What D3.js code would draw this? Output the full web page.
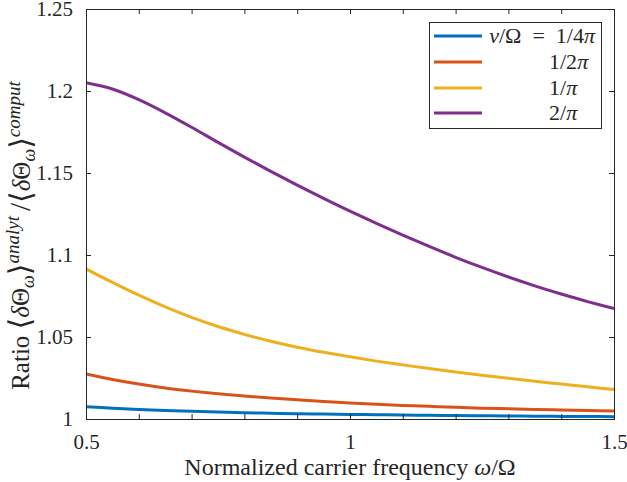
<!DOCTYPE html>
<html>
<head>
<meta charset="utf-8">
<script src="https://cdn.jsdelivr.net/npm/d3@7"></script>
<style>
  html, body { margin: 0; padding: 0; background: #fff; }
  svg text { font-family: "Liberation Serif", "DejaVu Serif", serif; fill: #262626; }
</style>
</head>
<body>
<svg id="chart" width="627" height="482"></svg>
<script>
// Normalized carrier frequency ω/Ω
const omega = [0.50, 0.55, 0.60, 0.65, 0.70, 0.75, 0.80, 0.85, 0.90, 0.95, 1.00,
               1.05, 1.10, 1.15, 1.20, 1.25, 1.30, 1.35, 1.40, 1.45, 1.50];

// Ratio <δΘ>analyt / <δΘ>comput for each ν/Ω
const ratioQuarterPi = [1.0075, 1.0066, 1.0058, 1.0052, 1.0047, 1.0042, 1.0038, 1.0035, 1.0032, 1.0030, 1.0028,
                        1.0026, 1.0024, 1.0023, 1.0021, 1.0020, 1.0019, 1.0017, 1.0016, 1.0015, 1.0014];
const ratioHalfPi    = [1.0274, 1.0241, 1.0213, 1.0189, 1.0170, 1.0154, 1.0140, 1.0128, 1.0117, 1.0107, 1.0098,
                        1.0090, 1.0083, 1.0077, 1.0071, 1.0066, 1.0062, 1.0058, 1.0055, 1.0052, 1.0049];
const ratioOnePi     = [1.0915, 1.0833, 1.0755, 1.0684, 1.0620, 1.0564, 1.0516, 1.0474, 1.0438, 1.0407, 1.0379,
                        1.0353, 1.0330, 1.0308, 1.0287, 1.0267, 1.0248, 1.0230, 1.0213, 1.0196, 1.0180];
const ratioTwoPi     = [1.2050, 1.2012, 1.1947, 1.1867, 1.1779, 1.1687, 1.1597, 1.1510, 1.1426, 1.1345, 1.1267,
                        1.1193, 1.1121, 1.1052, 1.0986, 1.0924, 1.0866, 1.0812, 1.0762, 1.0716, 1.0673];

const seriesNames  = ["1/4π", "1/2π", "1/π", "2/π"];
const seriesColors = ["#0072BD", "#D95319", "#EDB120", "#7E2F8E"];
const seriesValues = [ratioQuarterPi, ratioHalfPi, ratioOnePi, ratioTwoPi];

const xTickValues = [0.5, 0.6, 0.7, 0.8, 0.9, 1.0, 1.1, 1.2, 1.3, 1.4, 1.5];
const xTickLabels = ["0.5", "", "", "", "", "1", "", "", "", "", "1.5"];
const yTickValues = [1.00, 1.05, 1.10, 1.15, 1.20, 1.25];
const yTickLabels = ["1", "1.05", "1.1", "1.15", "1.2", "1.25"];

const svg = d3.select("#chart");
const L = 86, R = 614, T = 9, B = 419;
const axisColor = "#262626";
const tickLen = 5;

const x = d3.scaleLinear().domain([0.5, 1.5]).range([L, R]);
const y = d3.scaleLinear().domain([1.0, 1.25]).range([B, T]);

// Curves
const line = d3.line()
  .x(d => x(d[0]))
  .y(d => y(d[1]))
  .curve(d3.curveCatmullRom.alpha(0.5));

svg.append("clipPath").attr("id", "plotclip")
  .append("rect").attr("x", L).attr("y", T - 2).attr("width", R - L).attr("height", B - T + 2);

svg.append("g").attr("clip-path", "url(#plotclip)")
  .selectAll("path")
  .data(seriesValues)
  .join("path")
  .attr("d", vals => line(omega.map((w, i) => [w, vals[i]])))
  .attr("fill", "none")
  .attr("stroke", (d, i) => seriesColors[i])
  .attr("stroke-width", 3)
  .attr("stroke-linejoin", "round");

// Axes (boxed, ticks pointing inward on all four sides)
function styleAxis(g) {
  g.select(".domain").attr("stroke", axisColor).attr("stroke-width", 1);
  g.selectAll(".tick line").attr("stroke", axisColor).attr("stroke-width", 1);
  g.selectAll(".tick text").attr("font-size", 21).attr("fill", axisColor);
}

svg.append("g")
  .attr("transform", `translate(0,${B})`)
  .call(d3.axisBottom(x).tickValues(xTickValues)
        .tickFormat((d, i) => xTickLabels[i])
        .tickSizeInner(-tickLen).tickSizeOuter(0).tickPadding(15))
  .call(styleAxis)
  .call(g => g.selectAll(".tick text").attr("dy", "0.71em"));

svg.append("g")
  .attr("transform", `translate(0,${T})`)
  .call(d3.axisTop(x).tickValues(xTickValues).tickFormat("")
        .tickSizeInner(-tickLen).tickSizeOuter(0))
  .call(styleAxis);

svg.append("g")
  .attr("transform", `translate(${L},0)`)
  .call(d3.axisLeft(y).tickValues(yTickValues)
        .tickFormat((d, i) => yTickLabels[i])
        .tickSizeInner(-tickLen).tickSizeOuter(0).tickPadding(13))
  .call(styleAxis);

svg.append("g")
  .attr("transform", `translate(${R},0)`)
  .call(d3.axisRight(y).tickValues(yTickValues).tickFormat("")
        .tickSizeInner(-tickLen).tickSizeOuter(0))
  .call(styleAxis);

svg.selectAll(".domain").attr("shape-rendering", "crispEdges");

// X axis label
const xl = svg.append("text")
  .attr("x", (L + R) / 2).attr("y", 475)
  .attr("text-anchor", "middle").attr("font-size", 24);
xl.append("tspan").text("Normalized carrier frequency ");
xl.append("tspan").attr("font-style", "italic").text("ω");
xl.append("tspan").text("/Ω");

// Y axis label
const yl = svg.append("text")
  .attr("transform", `translate(29,233) rotate(-90)`)
  .attr("text-anchor", "middle").attr("font-size", 25);
function ratioTerm(sel, sup) {
  sel.append("tspan").attr("font-size", 30).attr("dy", 1).text("⟨");
  sel.append("tspan").attr("font-style", "italic").attr("dy", -1).text("δ");
  sel.append("tspan").text("Θ");
  sel.append("tspan").attr("font-style", "italic").attr("font-size", 18).attr("dy", 5).text("ω");
  sel.append("tspan").attr("font-size", 30).attr("dy", -4).text("⟩");
  sel.append("tspan").attr("font-style", "italic").attr("font-size", 19).attr("dy", -11).text(sup);
  sel.append("tspan").attr("font-size", 25).attr("dy", 11).text("\u2009");
}
yl.append("tspan").text("Ratio ");
ratioTerm(yl, "analyt");
yl.append("tspan").attr("font-size", 29).text("/");
ratioTerm(yl, "comput");

// Legend
const lgX = 429, lgY = 22, lgW = 172, lgH = 106;
const lg = svg.append("g");
lg.append("rect")
  .attr("x", lgX).attr("y", lgY).attr("width", lgW).attr("height", lgH)
  .attr("fill", "#fff").attr("stroke", axisColor).attr("stroke-width", 1)
  .attr("shape-rendering", "crispEdges");
const rowY = [36, 62, 88, 113];
seriesNames.forEach((name, i) => {
  lg.append("line")
    .attr("x1", 434).attr("x2", 482)
    .attr("y1", rowY[i]).attr("y2", rowY[i])
    .attr("stroke", seriesColors[i]).attr("stroke-width", 3);
  const t = lg.append("text")
    .attr("y", rowY[i] + 7).attr("font-size", 22);
  if (i === 0) {
    t.attr("x", 595).attr("text-anchor", "end");
    t.append("tspan").attr("font-style", "italic").text("ν");
    t.append("tspan").text("/Ω\u2002=\u2002" + name.replace("π", ""));
    t.append("tspan").attr("font-style", "italic").text("π");
  } else {
    t.attr("x", 549).attr("text-anchor", "start");
    t.append("tspan").text(name.replace("π", ""));
    t.append("tspan").attr("font-style", "italic").text("π");
  }
});
</script>
</body>
</html>
